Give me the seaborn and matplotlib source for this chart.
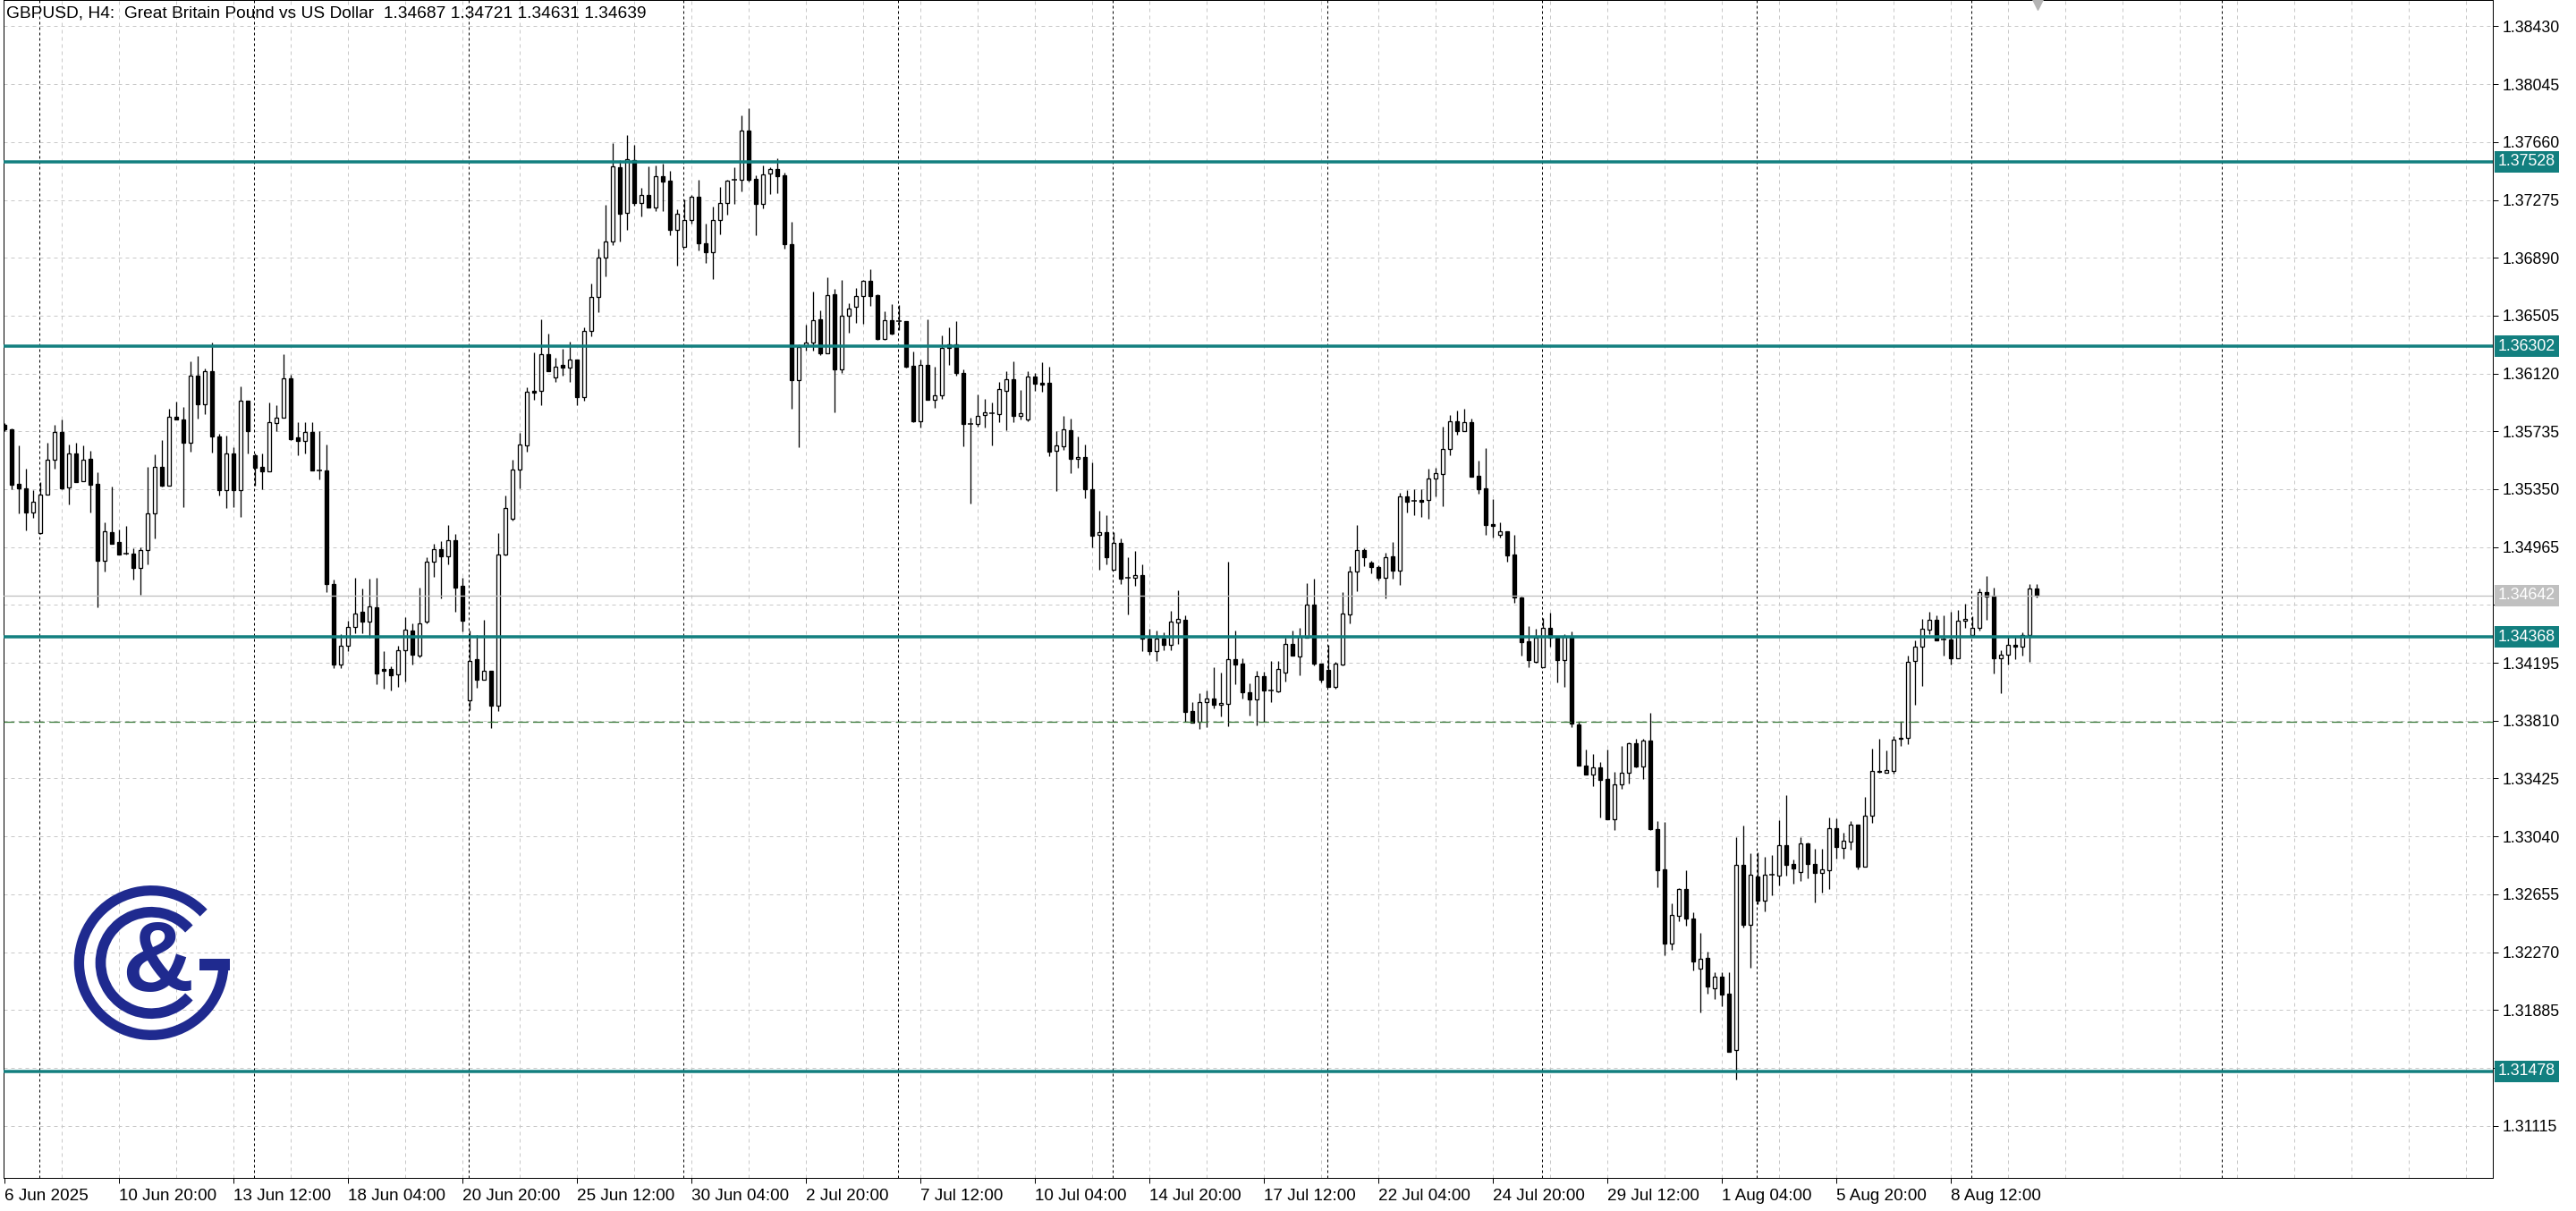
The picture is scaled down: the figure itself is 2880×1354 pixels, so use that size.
import numpy as np
import matplotlib
matplotlib.use("Agg")
import matplotlib.pyplot as plt
import matplotlib.transforms as mtransforms
from matplotlib.patches import Arc, Rectangle
import seaborn as sns

# GBPUSD H4 candles (bar 0 = 6 Jun 04:00)
opens = [
    1.35778, 1.35749, 1.35385, 1.35355, 1.35195, 1.35058, 1.35314, 1.35546, 1.35731, 1.35361,
    1.35588, 1.35403, 1.35552, 1.35385, 1.34873, 1.35064, 1.34998, 1.34921, 1.34921, 1.34826,
    1.34945, 1.35189, 1.35498, 1.35373, 1.35832, 1.35814, 1.35659, 1.36106, 1.35915, 1.36135,
    1.35701, 1.35343, 1.35588, 1.35343, 1.35939, 1.35576, 1.35498, 1.35469, 1.35790, 1.35826,
    1.36088, 1.35695, 1.35671, 1.35731, 1.35475, 1.35475, 1.34719, 1.34183, 1.34308, 1.34433,
    1.34534, 1.34469, 1.34564, 1.34154, 1.34154, 1.34118, 1.34279, 1.34409, 1.34243, 1.34469,
    1.34868, 1.34951, 1.34903, 1.35010, 1.34707, 1.33945, 1.34219, 1.34082, 1.34142, 1.33910,
    1.34915, 1.35153, 1.35480, 1.35641, 1.36005, 1.36005, 1.36248, 1.36094, 1.36177, 1.36159,
    1.36213, 1.35963, 1.36403, 1.36629, 1.36891, 1.36998, 1.37492, 1.37189, 1.37540, 1.37254,
    1.37308, 1.37224, 1.37433, 1.37403, 1.37076, 1.36963, 1.37141, 1.37296, 1.36986, 1.36927,
    1.37141, 1.37254, 1.37409, 1.37409, 1.37736, 1.37415, 1.37248, 1.37451, 1.37480, 1.37439,
    1.36980, 1.36076, 1.36302, 1.36326, 1.36480, 1.36254, 1.36647, 1.36147, 1.36504, 1.36564,
    1.36635, 1.36736, 1.36641, 1.36350, 1.36475, 1.36469, 1.36469, 1.36171, 1.35802, 1.36177,
    1.35945, 1.35975, 1.36314, 1.36314, 1.36124, 1.35784, 1.35784, 1.35844, 1.35856, 1.35850,
    1.36005, 1.36082, 1.35838, 1.35814, 1.36100, 1.36058, 1.36058, 1.35606, 1.35636, 1.35743,
    1.35552, 1.35564, 1.35349, 1.35046, 1.35064, 1.34814, 1.34993, 1.34761, 1.34761, 1.34778,
    1.34356, 1.34273, 1.34356, 1.34314, 1.34463, 1.34481, 1.33874, 1.33803, 1.33933, 1.33957,
    1.33916, 1.33922, 1.34219, 1.34189, 1.33999, 1.33951, 1.34106, 1.34011, 1.34005, 1.34130,
    1.34320, 1.34237, 1.34362, 1.34582, 1.34189, 1.34148, 1.34035, 1.34183, 1.34517, 1.34802,
    1.34945, 1.34862, 1.34832, 1.34761, 1.34903, 1.34808, 1.35302, 1.35272, 1.35278, 1.35278,
    1.35421, 1.35451, 1.35618, 1.35802, 1.35737, 1.35796, 1.35439, 1.35355, 1.35118, 1.35046,
    1.35070, 1.34915, 1.34630, 1.34338, 1.34201, 1.34165, 1.34427, 1.34362, 1.34213, 1.34362,
    1.33785, 1.33511, 1.33451, 1.33499, 1.33422, 1.33154, 1.33386, 1.33463, 1.33660, 1.33505,
    1.33678, 1.33089, 1.32821, 1.32327, 1.32511, 1.32690, 1.32494, 1.32160, 1.32232, 1.32029,
    1.32107, 1.31994, 1.31619, 1.32850, 1.32452, 1.32773, 1.32612, 1.32785, 1.32779, 1.32981,
    1.32856, 1.32803, 1.32993, 1.32856, 1.32797, 1.32815, 1.33095, 1.32964, 1.33005, 1.33118,
    1.32839, 1.33178, 1.33475, 1.33463, 1.33475, 1.33696, 1.33696, 1.34207, 1.34302, 1.34415,
    1.34481, 1.34350, 1.34350, 1.34225, 1.34475, 1.34380, 1.34427, 1.34665, 1.34642, 1.34225,
    1.34249, 1.34314, 1.34302, 1.34380, 1.34687,
]
highs = [
    1.35790, 1.35754, 1.35641, 1.35486, 1.35343, 1.35397, 1.35659, 1.35778, 1.35814, 1.35647,
    1.35659, 1.35641, 1.35606, 1.35463, 1.35129, 1.35367, 1.35082, 1.35106, 1.34957, 1.34963,
    1.35498, 1.35582, 1.35677, 1.35886, 1.35933, 1.35897, 1.36201, 1.36237, 1.36153, 1.36326,
    1.35719, 1.35707, 1.35630, 1.36034, 1.35939, 1.35588, 1.35588, 1.35927, 1.35909, 1.36248,
    1.36112, 1.35796, 1.35796, 1.35796, 1.35737, 1.35647, 1.34749, 1.34386, 1.34475, 1.34761,
    1.34689, 1.34755, 1.34761, 1.34273, 1.34171, 1.34308, 1.34499, 1.34457, 1.34695, 1.34897,
    1.34987, 1.35004, 1.35112, 1.35052, 1.34761, 1.34409, 1.34380, 1.34481, 1.34142, 1.35058,
    1.35308, 1.35546, 1.35725, 1.36028, 1.36260, 1.36480, 1.36385, 1.36225, 1.36284, 1.36332,
    1.36213, 1.36427, 1.36718, 1.36951, 1.37242, 1.37653, 1.37540, 1.37706, 1.37641, 1.37355,
    1.37498, 1.37504, 1.37516, 1.37468, 1.37212, 1.37278, 1.37308, 1.37409, 1.37117, 1.37230,
    1.37361, 1.37409, 1.37492, 1.37837, 1.37885, 1.37439, 1.37504, 1.37492, 1.37552, 1.37456,
    1.37129, 1.36314, 1.36445, 1.36665, 1.36540, 1.36760, 1.36683, 1.36742, 1.36588, 1.36689,
    1.36742, 1.36814, 1.36647, 1.36534, 1.36582, 1.36576, 1.36469, 1.36266, 1.36213, 1.36480,
    1.36165, 1.36373, 1.36427, 1.36469, 1.36147, 1.35826, 1.35981, 1.35951, 1.35927, 1.36064,
    1.36135, 1.36201, 1.36011, 1.36135, 1.36124, 1.36195, 1.36165, 1.35737, 1.35838, 1.35820,
    1.35701, 1.35647, 1.35528, 1.35207, 1.35177, 1.35064, 1.35022, 1.34897, 1.34939, 1.34850,
    1.34421, 1.34409, 1.34398, 1.34540, 1.34677, 1.34511, 1.33933, 1.33993, 1.34011, 1.34165,
    1.34130, 1.34868, 1.34409, 1.34225, 1.34059, 1.34142, 1.34136, 1.34207, 1.34207, 1.34362,
    1.34409, 1.34427, 1.34725, 1.34755, 1.34189, 1.34314, 1.34201, 1.34665, 1.34838, 1.35112,
    1.34957, 1.34873, 1.34844, 1.34927, 1.34998, 1.35326, 1.35343, 1.35349, 1.35349, 1.35486,
    1.35492, 1.35767, 1.35844, 1.35874, 1.35886, 1.35820, 1.35540, 1.35624, 1.35284, 1.35129,
    1.35070, 1.35046, 1.34636, 1.34439, 1.34421, 1.34493, 1.34528, 1.34362, 1.34386, 1.34404,
    1.33803, 1.33618, 1.33589, 1.33535, 1.33618, 1.33469, 1.33642, 1.33666, 1.33690, 1.33690,
    1.33862, 1.33142, 1.33136, 1.32595, 1.32696, 1.32815, 1.32535, 1.32398, 1.32273, 1.32137,
    1.32137, 1.32137, 1.33035, 1.33112, 1.32928, 1.32934, 1.32904, 1.32916, 1.33148, 1.33315,
    1.32886, 1.33035, 1.32999, 1.32958, 1.32958, 1.33166, 1.33160, 1.33065, 1.33142, 1.33118,
    1.33303, 1.33624, 1.33690, 1.33612, 1.33708, 1.33803, 1.34243, 1.34344, 1.34487, 1.34534,
    1.34511, 1.34511, 1.34534, 1.34546, 1.34588, 1.34505, 1.34689, 1.34773, 1.34695, 1.34279,
    1.34368, 1.34368, 1.34398, 1.34719, 1.34721,
]
lows = [
    1.35737, 1.35349, 1.35189, 1.35076, 1.35159, 1.35052, 1.35314, 1.35486, 1.35349, 1.35248,
    1.35397, 1.35403, 1.35195, 1.34564, 1.34802, 1.34987, 1.34915, 1.34915, 1.34749, 1.34647,
    1.34850, 1.35022, 1.35367, 1.35373, 1.35814, 1.35230, 1.35600, 1.35820, 1.35850, 1.35594,
    1.35308, 1.35225, 1.35230, 1.35165, 1.35588, 1.35373, 1.35349, 1.35469, 1.35737, 1.35826,
    1.35677, 1.35576, 1.35588, 1.35475, 1.35415, 1.34665, 1.34159, 1.34159, 1.34273, 1.34392,
    1.34392, 1.34362, 1.34053, 1.34023, 1.34011, 1.34035, 1.34070, 1.34183, 1.34231, 1.34457,
    1.34767, 1.34624, 1.34850, 1.34534, 1.34404, 1.33880, 1.34029, 1.34082, 1.33761, 1.33874,
    1.34909, 1.35141, 1.35355, 1.35600, 1.35945, 1.35909, 1.36135, 1.36064, 1.36106, 1.36064,
    1.35909, 1.35939, 1.36367, 1.36528, 1.36766, 1.36974, 1.36998, 1.37076, 1.37236, 1.37165,
    1.37224, 1.37201, 1.37201, 1.37040, 1.36838, 1.36963, 1.37117, 1.36939, 1.36856, 1.36748,
    1.37046, 1.37177, 1.37248, 1.37332, 1.37397, 1.37040, 1.37218, 1.37314, 1.37320, 1.36951,
    1.35886, 1.35630, 1.36272, 1.36272, 1.36242, 1.36254, 1.35862, 1.36124, 1.36391, 1.36457,
    1.36451, 1.36570, 1.36344, 1.36344, 1.36379, 1.36409, 1.36159, 1.35796, 1.35761, 1.35945,
    1.35891, 1.35951, 1.36177, 1.36106, 1.35636, 1.35254, 1.35767, 1.35761, 1.35641, 1.35796,
    1.35743, 1.35796, 1.35814, 1.35802, 1.36005, 1.35999, 1.35570, 1.35338, 1.35612, 1.35457,
    1.35492, 1.35290, 1.34963, 1.34814, 1.34850, 1.34814, 1.34719, 1.34517, 1.34707, 1.34273,
    1.34249, 1.34207, 1.34279, 1.34279, 1.34320, 1.33803, 1.33797, 1.33755, 1.33767, 1.33892,
    1.33838, 1.33773, 1.34053, 1.33957, 1.33844, 1.33779, 1.33803, 1.33933, 1.33999, 1.34070,
    1.34243, 1.34112, 1.34362, 1.34177, 1.34064, 1.34035, 1.34023, 1.34177, 1.34457, 1.34671,
    1.34838, 1.34790, 1.34743, 1.34624, 1.34755, 1.34713, 1.35195, 1.35177, 1.35165, 1.35153,
    1.35302, 1.35236, 1.35576, 1.35713, 1.35737, 1.35433, 1.35320, 1.35046, 1.35028, 1.35028,
    1.34868, 1.34594, 1.34243, 1.34165, 1.34195, 1.34165, 1.34302, 1.34064, 1.34035, 1.33767,
    1.33511, 1.33451, 1.33374, 1.33166, 1.33154, 1.33083, 1.33356, 1.33392, 1.33499, 1.33422,
    1.33083, 1.32702, 1.32250, 1.32285, 1.32476, 1.32446, 1.32149, 1.31869, 1.31994, 1.31958,
    1.31910, 1.31607, 1.31422, 1.32434, 1.32166, 1.32589, 1.32541, 1.32648, 1.32714, 1.32779,
    1.32726, 1.32743, 1.32761, 1.32600, 1.32666, 1.32690, 1.32892, 1.32892, 1.32952, 1.32821,
    1.32839, 1.33130, 1.33463, 1.33463, 1.33457, 1.33642, 1.33654, 1.33916, 1.34041, 1.34386,
    1.34344, 1.34243, 1.34183, 1.34225, 1.34427, 1.34368, 1.34409, 1.34481, 1.34124, 1.33993,
    1.34183, 1.34219, 1.34243, 1.34201, 1.34631,
]
closes = [
    1.35749, 1.35379, 1.35355, 1.35195, 1.35266, 1.35314, 1.35546, 1.35731, 1.35355, 1.35588,
    1.35397, 1.35546, 1.35379, 1.34873, 1.35070, 1.34987, 1.34915, 1.34921, 1.34826, 1.34945,
    1.35189, 1.35498, 1.35373, 1.35832, 1.35814, 1.35659, 1.36106, 1.35915, 1.36135, 1.35701,
    1.35343, 1.35588, 1.35343, 1.35939, 1.35737, 1.35492, 1.35469, 1.35796, 1.35826, 1.36088,
    1.35683, 1.35671, 1.35731, 1.35475, 1.35475, 1.34719, 1.34183, 1.34308, 1.34433, 1.34522,
    1.34469, 1.34570, 1.34124, 1.34142, 1.34112, 1.34279, 1.34415, 1.34249, 1.34457, 1.34868,
    1.34951, 1.34903, 1.35010, 1.34695, 1.34475, 1.34207, 1.34082, 1.34142, 1.33910, 1.34915,
    1.35225, 1.35480, 1.35647, 1.35999, 1.35993, 1.36248, 1.36135, 1.36165, 1.36159, 1.36213,
    1.35963, 1.36403, 1.36629, 1.36891, 1.36998, 1.37498, 1.37183, 1.37546, 1.37254, 1.37308,
    1.37224, 1.37433, 1.37397, 1.37076, 1.37183, 1.37141, 1.37296, 1.36986, 1.36927, 1.37141,
    1.37254, 1.37403, 1.37409, 1.37736, 1.37409, 1.37248, 1.37445, 1.37480, 1.37433, 1.36980,
    1.36076, 1.36296, 1.36326, 1.36475, 1.36254, 1.36641, 1.36147, 1.36504, 1.36552, 1.36635,
    1.36736, 1.36635, 1.36350, 1.36475, 1.36385, 1.36469, 1.36165, 1.35802, 1.36177, 1.35945,
    1.35975, 1.36290, 1.36290, 1.36124, 1.35784, 1.35784, 1.35838, 1.35862, 1.35856, 1.36017,
    1.36082, 1.35838, 1.35856, 1.36100, 1.36052, 1.36046, 1.35600, 1.35641, 1.35749, 1.35552,
    1.35564, 1.35349, 1.35040, 1.35064, 1.34897, 1.34993, 1.34755, 1.34761, 1.34778, 1.34356,
    1.34273, 1.34356, 1.34314, 1.34469, 1.34487, 1.33868, 1.33797, 1.33933, 1.33957, 1.33916,
    1.33927, 1.34219, 1.34183, 1.33999, 1.33951, 1.34106, 1.34011, 1.34011, 1.34154, 1.34320,
    1.34243, 1.34368, 1.34582, 1.34189, 1.34082, 1.34035, 1.34189, 1.34522, 1.34802, 1.34945,
    1.34897, 1.34832, 1.34761, 1.34897, 1.34808, 1.35302, 1.35266, 1.35272, 1.35266, 1.35421,
    1.35457, 1.35618, 1.35802, 1.35737, 1.35796, 1.35433, 1.35349, 1.35112, 1.35106, 1.35070,
    1.34909, 1.34630, 1.34332, 1.34213, 1.34362, 1.34427, 1.34362, 1.34213, 1.34368, 1.33791,
    1.33511, 1.33451, 1.33499, 1.33416, 1.33154, 1.33386, 1.33463, 1.33660, 1.33505, 1.33678,
    1.33089, 1.32815, 1.32327, 1.32517, 1.32690, 1.32494, 1.32208, 1.32226, 1.32041, 1.32107,
    1.31988, 1.31607, 1.32850, 1.32452, 1.32785, 1.32612, 1.32785, 1.32785, 1.32981, 1.32850,
    1.32827, 1.32993, 1.32856, 1.32797, 1.32821, 1.33095, 1.32970, 1.33011, 1.33118, 1.32839,
    1.33178, 1.33475, 1.33469, 1.33481, 1.33684, 1.33690, 1.34201, 1.34302, 1.34421, 1.34481,
    1.34344, 1.34350, 1.34225, 1.34475, 1.34487, 1.34427, 1.34665, 1.34636, 1.34225, 1.34249,
    1.34314, 1.34302, 1.34380, 1.34689, 1.34639,
]

date_bars = [0, 16, 32, 48, 64, 80, 96, 112, 128, 144, 160, 176, 192, 208, 224, 240, 256, 272]
date_labels = ["6 Jun 2025", "10 Jun 20:00", "13 Jun 12:00", "18 Jun 04:00", "20 Jun 20:00",
               "25 Jun 12:00", "30 Jun 04:00", "2 Jul 20:00", "7 Jul 12:00", "10 Jul 04:00",
               "14 Jul 20:00", "17 Jul 12:00", "22 Jul 04:00", "24 Jul 20:00", "29 Jul 12:00",
               "1 Aug 04:00", "5 Aug 20:00", "8 Aug 12:00"]
week_start_bars = [5, 35, 65, 95, 125, 155, 185, 215, 245, 275, 310]

price_ticks = [1.38430, 1.38045, 1.37660, 1.37275, 1.36890, 1.36505, 1.36120, 1.35735,
               1.35350, 1.34965, 1.34580, 1.34195, 1.33810, 1.33425, 1.33040, 1.32655,
               1.32270, 1.31885, 1.31500, 1.31115]
hidden_ticks = [1.34580, 1.31500]   # covered by the price boxes

levels = [1.37528, 1.36302, 1.34368, 1.31478]
dashed_level = 1.33804
bid_price = 1.34642
header = "GBPUSD, H4:  Great Britain Pound vs US Dollar  1.34687 1.34721 1.34631 1.34639"

sns.set_theme(style="white")
plt.rcParams["font.family"] = ["Liberation Sans", "DejaVu Sans"]

W, H = 2880, 1354
px = 0.72  # one pixel in points at dpi 100
teal = "#127f7f"

fig = plt.figure(figsize=(W / 100, H / 100), dpi=100)
fig.patch.set_facecolor("white")
ax = fig.add_axes([4 / W, 37 / H, (2787 - 4) / W, 1317 / H])
ax.set_facecolor("white")
ax.set_xlim(-0.125, 347.75)
ax.set_ylim(1.30768, 1.38605)

# grid + weekly separators
for v in price_ticks:
    ax.axhline(v, color="#c8c8c8", lw=px, ls=(0, (4, 4)), zorder=0.5)
for k in range(1, 44):
    ax.axvline(8 * k, color="#c8c8c8", lw=px, ls=(0, (4, 4)), zorder=0.5)
for b in week_start_bars:
    ax.axvline(b - 0.1, color="black", lw=px, ls=(0, (3, 3)), zorder=1)

# candles
o = np.array(opens)
hi = np.array(highs)
lo = np.array(lows)
c = np.array(closes)
x = np.arange(len(o))
up = c > o
dn = c < o
flat = c == o

ax.vlines(x, lo, hi, color="black", lw=1.3 * px, zorder=3)
ax.bar(x[up], (c - o)[up], bottom=o[up], width=0.6, color="white",
       edgecolor="black", linewidth=1.3 * px, zorder=4)
ax.bar(x[dn], (o - c)[dn], bottom=c[dn], width=0.6, color="black",
       edgecolor="black", linewidth=1.3 * px, zorder=4)
ax.hlines(o[flat], x[flat] - 0.35, x[flat] + 0.35, color="black", lw=1.5 * px, zorder=4)

# horizontal levels
for lv in levels:
    ax.axhline(lv, color=teal, lw=3.5 * px, zorder=5)
ax.axhline(dashed_level, color="#3b7a3b", lw=1.3 * px, ls=(0, (9, 4)), zorder=5)
ax.axhline(bid_price, color="#c0c0c0", lw=1.3 * px, zorder=5)

# axes
ax.yaxis.tick_right()
ax.set_yticks(price_ticks)
ax.set_yticklabels(["" if v in hidden_ticks else f"{v:.5f}" for v in price_ticks])
ax.set_xticks(date_bars)
ax.set_xticklabels(date_labels, ha="left")
ax.tick_params(axis="y", which="both", right=True, left=False, length=4, width=px,
               pad=4, labelsize=12.8, colors="black")
ax.tick_params(axis="x", which="both", bottom=True, length=4, width=px,
               pad=5, labelsize=13.6, colors="black")
for s in ax.spines.values():
    s.set_color("black")
    s.set_linewidth(px)

trans = mtransforms.blended_transform_factory(ax.transAxes, ax.transData)
for lv in levels:
    ax.text(1.0 + 6 / 2783, lv, f"{lv:.5f}", transform=trans, ha="left", va="center",
            color="white", fontsize=12.8, clip_on=False, zorder=6,
            bbox=dict(boxstyle="square,pad=0.2", fc=teal, ec="none"))
ax.text(1.0 + 6 / 2783, bid_price, f"{bid_price:.5f}", transform=trans, ha="left",
        va="center", color="white", fontsize=12.8, clip_on=False, zorder=6,
        bbox=dict(boxstyle="square,pad=0.2", fc="#c0c0c0", ec="none"))

# chart shift marker
ax.scatter([284.1], [1.38575], marker="v", s=70, color="#b4b4b4", clip_on=False, zorder=7)

fig.text(7 / W, 1 - 15 / H, header, fontsize=13.8, ha="left", va="center", color="black")

# logo
navy = "#1f2a8f"
lax = fig.add_axes([60 / W, (H - 1165) / H, 220 / W, 190 / H])
lax.set_xlim(60, 280)
lax.set_ylim(1165, 975)
lax.axis("off")
lax.patch.set_alpha(0)
lax.add_patch(Arc((169.2, 1076.5), 161.6, 161.6, theta1=0, theta2=316.3,
                  color=navy, lw=11.3 * px))
lax.add_patch(Arc((169.2, 1076.5), 113.4, 113.4, theta1=42, theta2=318,
                  color=navy, lw=11.7 * px))
lax.add_patch(Rectangle((223, 1072), 34, 13, color=navy, lw=0))
lax.text(176, 1079, "&", fontsize=80, fontweight="bold", color=navy,
         ha="center", va="center", family=["Liberation Sans Narrow", "Liberation Sans"])

fig.savefig("out.png", dpi=100)
